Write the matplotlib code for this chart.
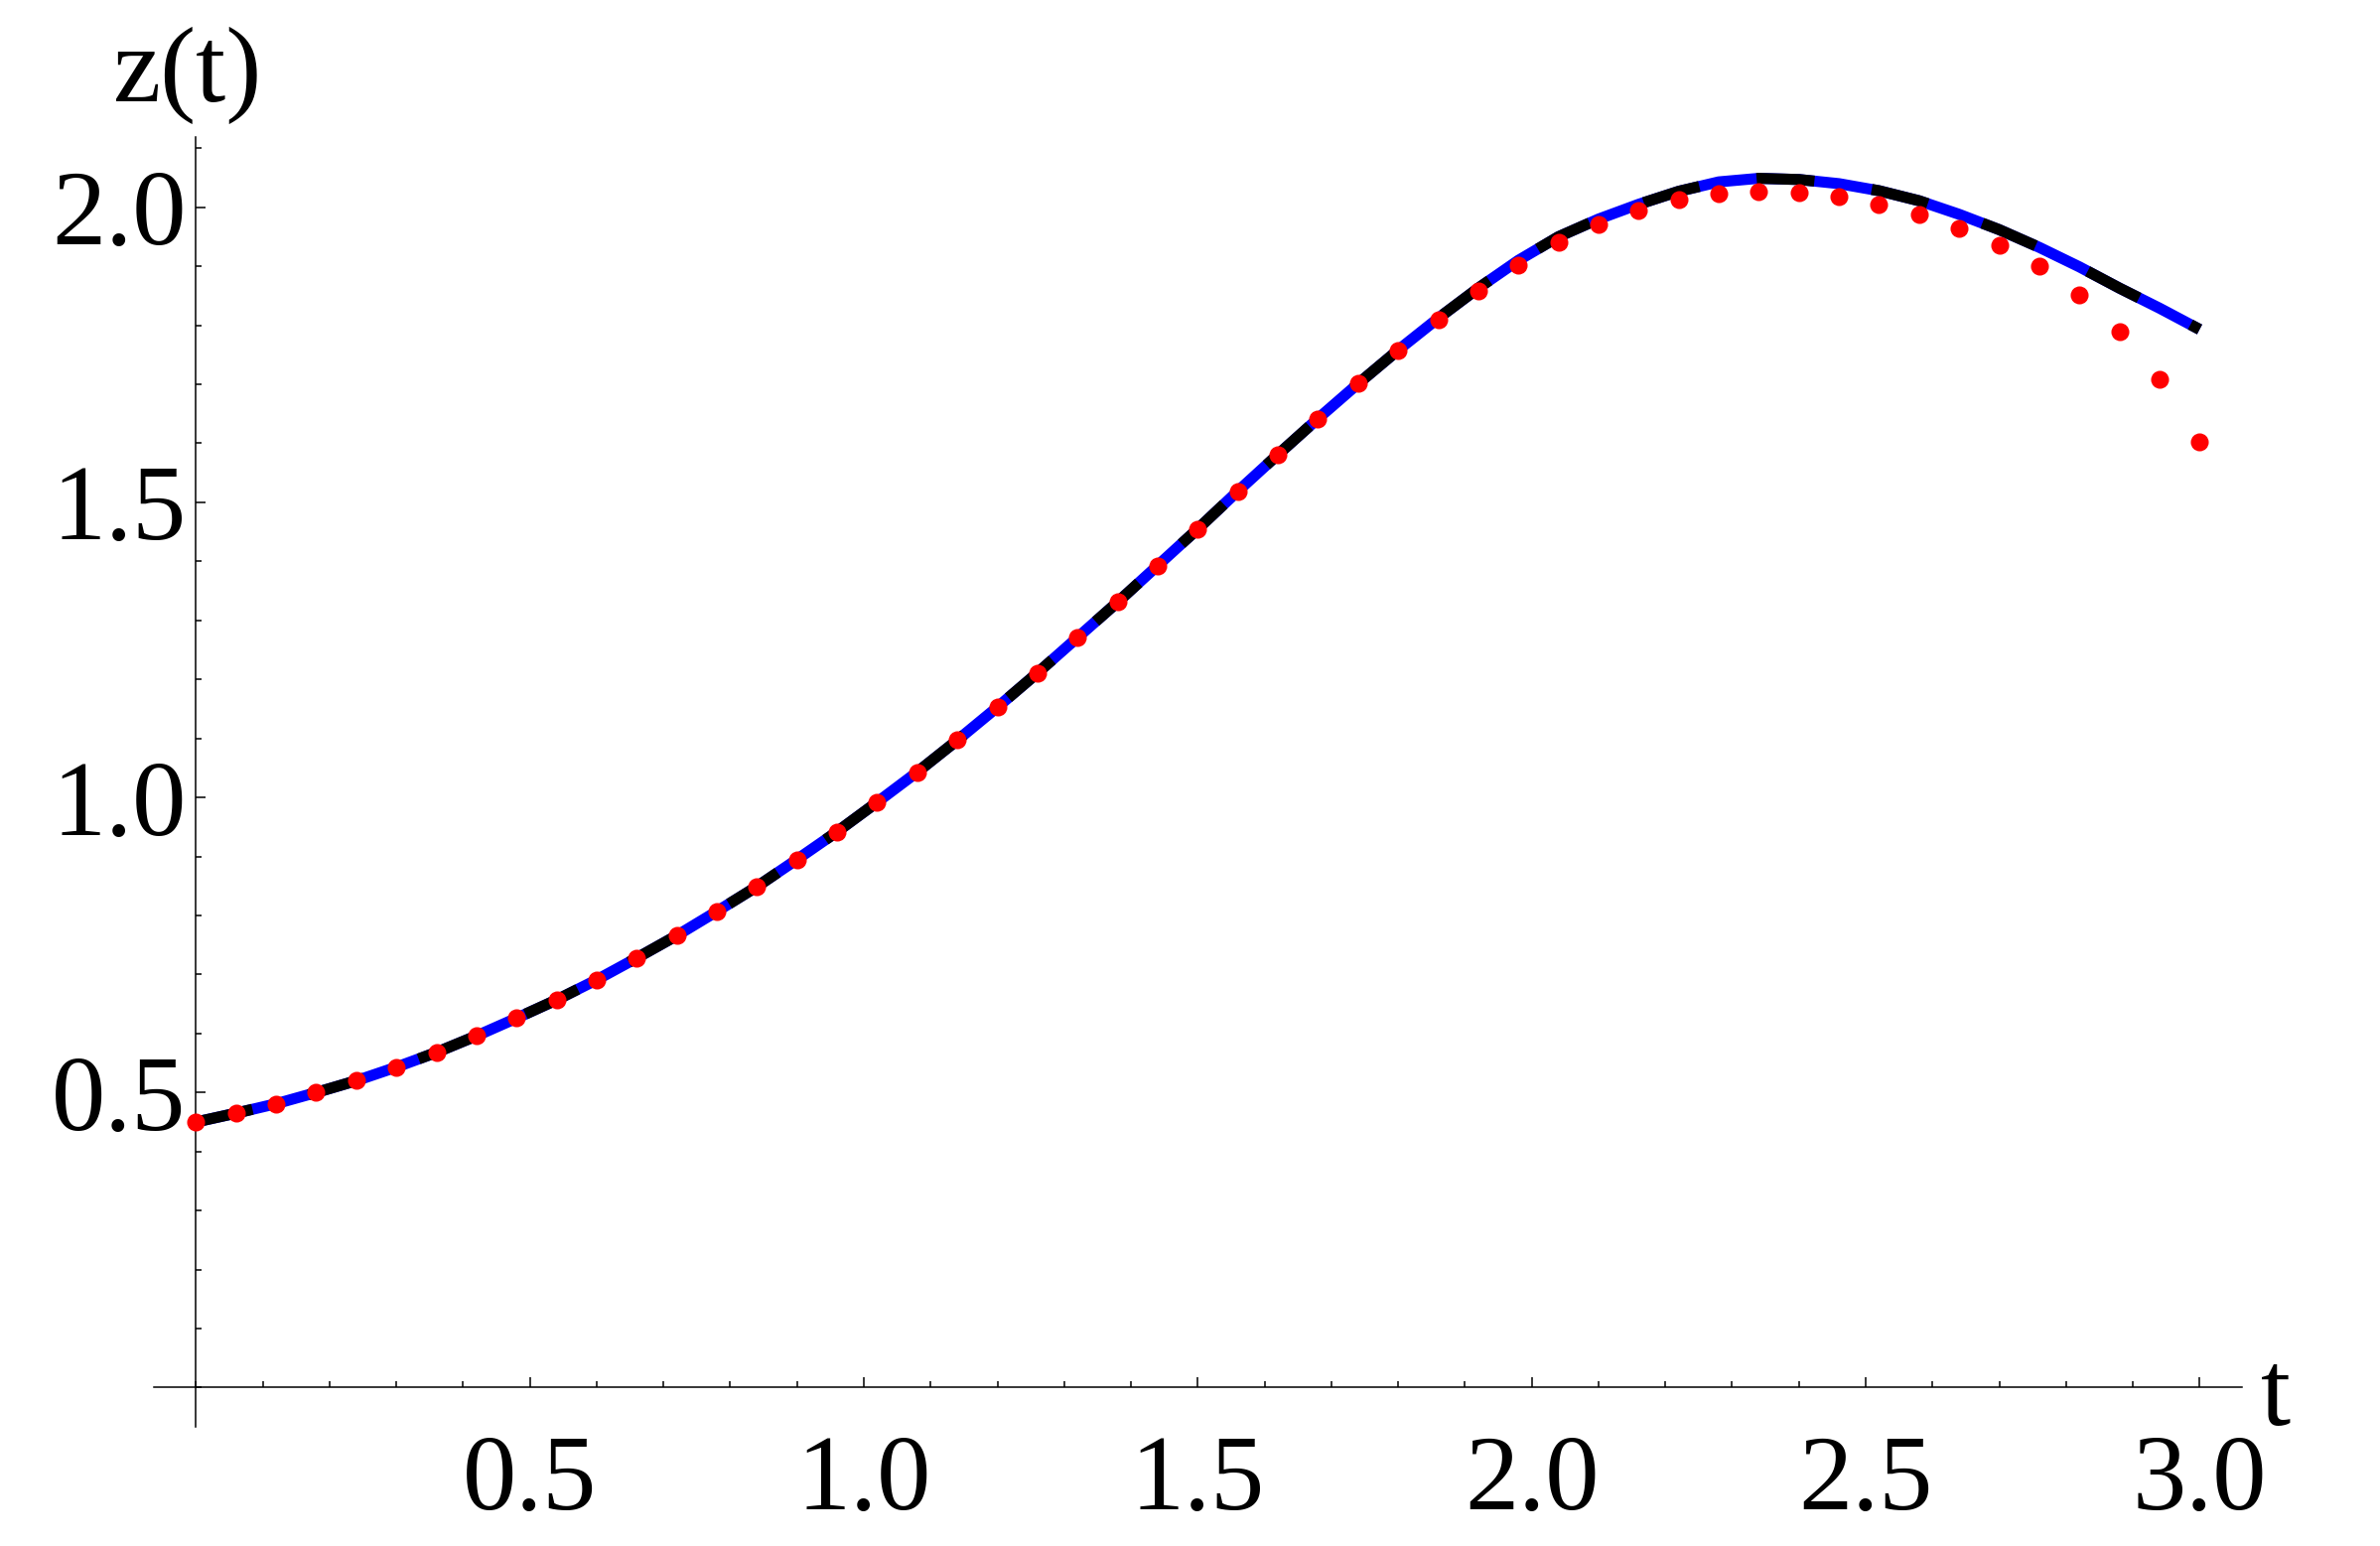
#!/usr/bin/env python3

import numpy as np
import matplotlib
matplotlib.use("Agg")
import matplotlib.pyplot as plt
from matplotlib.ticker import FixedLocator, MultipleLocator, FormatStrFormatter

plt.rcParams["font.family"] = ["Liberation Serif", "DejaVu Serif"]
plt.rcParams["lines.scale_dashes"] = False

# time grid of the sampled points (step 0.06)
t = np.round(np.arange(0, 51) * 0.06, 2)

# red dots (approximate solution)
z_dots = [0.450, 0.465, 0.481, 0.500, 0.520, 0.543, 0.568, 0.596, 0.626, 0.657,
          0.691, 0.728, 0.766, 0.807, 0.849, 0.895, 0.942, 0.992, 1.043, 1.097,
          1.153, 1.211, 1.271, 1.331, 1.393, 1.455, 1.519, 1.581, 1.642, 1.701,
          1.758, 1.810, 1.859, 1.902, 1.940, 1.971, 1.995, 2.013, 2.023, 2.027,
          2.025, 2.018, 2.005, 1.988, 1.965, 1.936, 1.901, 1.852, 1.790, 1.709,
          1.603]

# curve (blue solid under black dashed)
z_line = [0.450, 0.465, 0.481, 0.500, 0.520, 0.543, 0.568, 0.596, 0.626, 0.657,
          0.691, 0.728, 0.766, 0.807, 0.849, 0.895, 0.942, 0.992, 1.043, 1.097,
          1.153, 1.211, 1.271, 1.331, 1.393, 1.455, 1.519, 1.581, 1.642, 1.701,
          1.758, 1.812, 1.863, 1.910, 1.950, 1.980, 2.005, 2.027, 2.043, 2.049,
          2.047, 2.040, 2.028, 2.011, 1.988, 1.962, 1.932, 1.899, 1.863, 1.829,
          1.793]

x_ticks = [0.5, 1.0, 1.5, 2.0, 2.5, 3.0]
y_ticks = [0.5, 1.0, 1.5, 2.0]

W, H = 2397, 1557
fig = plt.figure(figsize=(W / 100, H / 100), dpi=100)
ax = fig.add_axes([155 / W, 1 - 1437.3 / H, (2257.7 - 155) / W, (1437.3 - 138) / H])

ax.plot(t, z_line, color="#0000ff", linewidth=8, solid_capstyle="butt", zorder=2)
line, = ax.plot(t, z_line, color="black", linewidth=8, zorder=3)
line.set_dashes((42, 42))
line.set_dash_capstyle("butt")
ax.plot(t, z_dots, "o", color="#ff0000", markersize=13, markeredgewidth=0, zorder=4)

ax.set_xlim(-0.063, 3.063)
ax.set_ylim(-0.067, 2.119)

# axes through the origin, mathematica style
for side in ["top", "right"]:
    ax.spines[side].set_visible(False)
ax.spines["left"].set_position(("data", 0))
ax.spines["bottom"].set_position(("data", 0))
ax.spines["left"].set_linewidth(1.1)
ax.spines["bottom"].set_linewidth(1.1)

ax.xaxis.set_major_locator(FixedLocator(x_ticks))
ax.yaxis.set_major_locator(FixedLocator(y_ticks))
ax.xaxis.set_minor_locator(MultipleLocator(0.1))
ax.yaxis.set_minor_locator(MultipleLocator(0.1))
ax.xaxis.set_major_formatter(FormatStrFormatter("%.1f"))
ax.yaxis.set_major_formatter(FormatStrFormatter("%.1f"))

ax.tick_params(which="both", direction="in", width=1.1, labelsize=78)
ax.tick_params(which="major", length=7.5)
ax.tick_params(which="minor", length=4.5)
ax.tick_params(axis="x", pad=34)
ax.tick_params(axis="y", pad=7)

# axis labels at the ends of the axes
fig.text(113 / W, 1 - 102 / H, "z(t)", fontsize=78, ha="left", va="baseline")
fig.text(2277 / W, 1 - 1435 / H, "t", fontsize=78, ha="left", va="baseline")

fig.savefig("out.png", dpi=100, facecolor="white")
